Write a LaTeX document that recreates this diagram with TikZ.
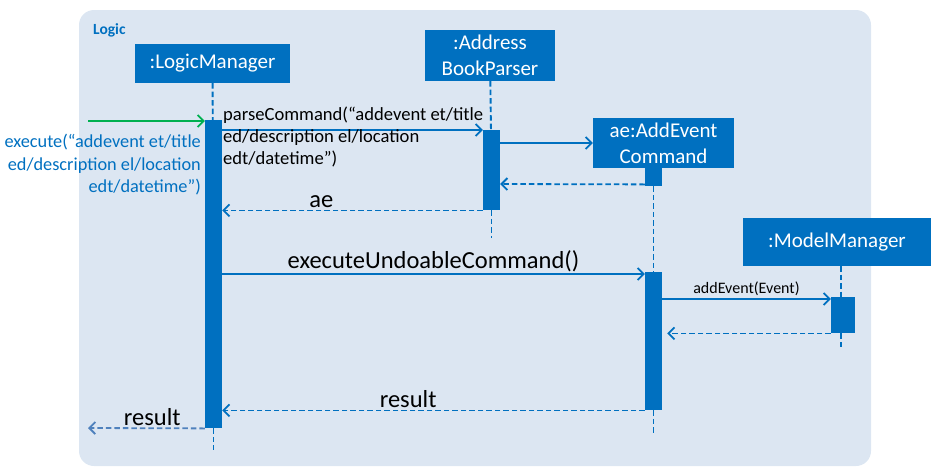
\documentclass[tikz,border=0pt]{standalone}
\usepackage{fontspec}
\setmainfont{Carlito}
\usepackage{xcolor}
\usepackage{tikz}
\usetikzlibrary{arrows.meta, positioning}
\definecolor{logicblue}{HTML}{0070C0}
\definecolor{logicbg}{HTML}{DCE6F2}
\definecolor{callgreen}{HTML}{00B050}
\definecolor{outblue}{HTML}{4F81BD}

\begin{document}
\begin{tikzpicture}[x=1pt, y=-1pt,
    >={Straight Barb[length=6pt, width=12pt, line width=1.8pt]},
    objbox/.style={fill=logicblue, text=white, inner sep=0pt, align=center, font=\fontsize{21}{26}\selectfont},
    actbar/.style={fill=logicblue, inner sep=0pt, minimum width=17pt, anchor=north},
    lifeline/.style={logicblue, line width=1.9pt, dash pattern=on 5.5pt off 3pt},
    call/.style={logicblue, line width=1.8pt, ->},
    ret/.style={logicblue, line width=1.8pt, dash pattern=on 5.5pt off 3pt, ->},
    msg/.style={text=black, inner sep=1.5pt, font=\fontsize{24.5}{28}\selectfont}]
            \useasboundingbox (0,0) rectangle (935,472);
            \fill[logicbg, rounded corners=15pt] (79,10) rectangle (871,466);
            \node[anchor=west, inner sep=0pt, text=logicblue, font=\bfseries\fontsize{15.5}{18}\selectfont] (logic) at (93,30) {Logic};

            \node[objbox, minimum width=155pt, minimum height=39pt] (lm) at (212.5,63.5) {:LogicManager};
            \node[objbox, minimum width=130pt, minimum height=51pt] (abp) at (490,55.5) {:Address\\BookParser};
            \node[objbox, minimum width=141pt, minimum height=50pt] (aec) at (663.5,143) {ae:AddEvent\\Command};
            \node[objbox, minimum width=188pt, minimum height=48pt] (mm) at (837,242) {:ModelManager};

            \node[actbar, minimum height=308pt] (lmact) at (213.5,120) {};
            \node[actbar, minimum height=80pt] (abpact) at (491.5,130) {};
            \node[actbar, minimum height=18pt] (aecact) at (653.5,168) {};
            \node[actbar, minimum height=138pt] (aecrun) at (653.5,272) {};
            \node[actbar, minimum width=24pt, minimum height=36pt] (mmact) at (843,297) {};

            \coordinate (lmend) at (213.5,450);
            \coordinate (abpend) at (491.5,238);
            \coordinate (aecend) at (653.5,433);
            \coordinate (mmend) at (841,350);
            \coordinate (callin) at (88,121);
            \coordinate (callout) at (88,428);

            \draw[lifeline] (lm) -- (lmact);
            \draw[lifeline] (lmact.south) -- (lmend);
            \draw[lifeline] (abp) -- (abpact);
            \draw[lifeline] (abpact.south) -- (abpend);
            \draw[lifeline] (aecact.south) -- (aecrun.north);
            \draw[lifeline] (aecrun.south) -- (aecend);
            \draw[lifeline] (mm.south -| mmend) -- (mmact.north -| mmend);
            \draw[lifeline] (mmact.south -| mmend) -- (mmend);

            \draw[callgreen, line width=1.8pt, ->] (callin) -- (callin -| lmact.west);
            \node[anchor=north east, inner sep=0pt, align=right, text=logicblue, font=\fontsize{18.3}{22.5}\selectfont] (exec) at (201,134) {execute(“addevent et/title\\ed/description el/location\\edt/datetime”)};

            \draw[call] (abpact.north west -| lmact.east) -- (abpact.north west);
            \node[anchor=north west, inner sep=0pt, align=left, text=black, font=\fontsize{18.6}{22}\selectfont] (parse) at (223,107) {parseCommand(“addevent et/title\\ed/description el/location\\edt/datetime”)};

            \draw[call] (abpact.east |- aec.west) -- (aec.west);
            \draw[ret] (aecact.south west) ++(0,-2) -- (abpact.east |- 0,184);
            \draw[ret] (abpact.south west) -- (abpact.south west -| lmact.east) node[msg, pos=0.62, above] {ae};

            \draw[call] (lmact.east |- aecrun.north) ++(0,2) -- (aecrun.west |- 0,274) node[msg, midway, above] {executeUndoableCommand()};
            \draw[call] (aecrun.east |- mmact.north) ++(0,2) -- (mmact.west |- 0,299) node[midway, above, inner sep=2pt, text=black, font=\fontsize{16}{19}\selectfont] {addEvent(Event)};
            \draw[ret] (mmact.south west) -- ([xshift=5pt]aecrun.east |- mmact.south);
            \draw[ret] (aecrun.south west) -- (aecrun.south west -| lmact.east) node[msg, pos=0.56, above] {result};
            \draw[outblue, line width=1.8pt, dash pattern=on 5.5pt off 3pt, ->] (lmact.south west) -- (callout) node[msg, pos=0.45, above] {result};
        \end{tikzpicture}
\end{document}
